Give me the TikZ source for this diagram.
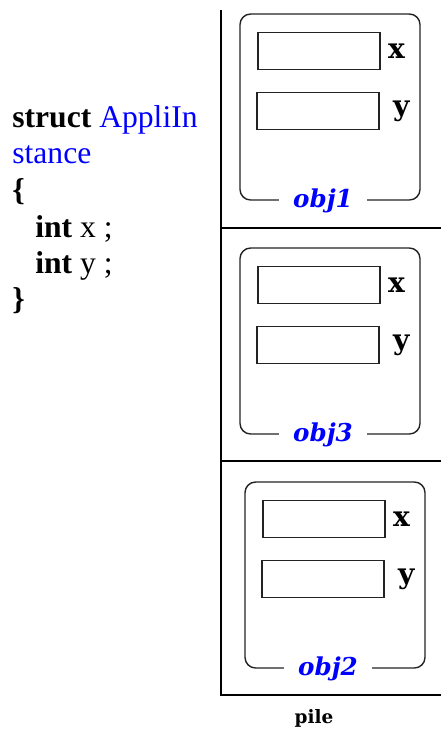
\documentclass[tikz,border=0pt]{standalone}
\usepackage{fontspec}
\setmainfont{Liberation Serif}
\newfontfamily\labfont{DejaVu Serif}
\usetikzlibrary{positioning}
\definecolor{codeblue}{RGB}{0,0,255}
\definecolor{ink}{RGB}{35,35,35}
\tikzset{
  codeline/.style={anchor=base west, inner sep=0pt, font=\fontsize{18}{20}\selectfont},
  objframe/.style={draw=ink, line width=0.8pt, rounded corners=6pt,
                   minimum width=3.6cm, minimum height=3.72cm},
  field/.style={draw=ink, line width=0.9pt, inner sep=0pt,
                minimum width=2.44cm, minimum height=0.74cm},
  fieldname/.style={font=\labfont\bfseries\fontsize{16}{18}\selectfont, inner sep=0pt},
  objname/.style={font=\labfont\bfseries\itshape\fontsize{14}{16}\selectfont,
                  text=codeblue, fill=white, inner xsep=0.28cm, inner ysep=1pt},
  stackline/.style={line width=1.1pt},
}
\begin{document}
\begin{tikzpicture}[x=0.02cm,y=-0.02cm]
    \useasboundingbox (0,0) rectangle (441,731);
    % --- the struct ---
    \node[codeline] (kw) at (12,127) {\textbf{struct} \textcolor{codeblue}{AppliIn}};
    \node[codeline,text=codeblue] (cont) at (12,163) {stance};
    \node[codeline] (open) at (12,200) {\textbf{\{}};
    \node[codeline] (fx) at (35,237) {\textbf{int} x ;};
    \node[codeline] (fy) at (35,273) {\textbf{int} y ;};
    \node[codeline] (close) at (12,309) {\textbf{\}}};
    % --- the stack ---
    \draw[stackline] (221,10) -- (221,695) -- (441,695);
    \draw[stackline] (221,228) -- (441,228);
    \draw[stackline] (221,461) -- (441,461);
    \foreach \id/\cx/\cy/\lab in {o1/330/107/obj1, o3/330/341/obj3, o2/335/575/obj2} {
      \node[objframe] (\id) at (\cx,\cy) {};
      \node[field] (\id-x) at ([shift={(-11,-56)}]\id.center) {};
      \node[field] (\id-y) at ([shift={(-12,4)}]\id.center) {};
      \node[fieldname,right=0.14cm of \id-x] (\id-xn) {x};
      \node[fieldname,right=0.26cm of \id-y] (\id-yn) {y};
      \node[objname] (\id-name) at ([xshift=-4]\id.south) {\lab};
    }
    \node[font=\labfont\bfseries\fontsize{10.5}{12}\selectfont,anchor=base] (pile) at (314,723) {pile};
\end{tikzpicture}
\end{document}
